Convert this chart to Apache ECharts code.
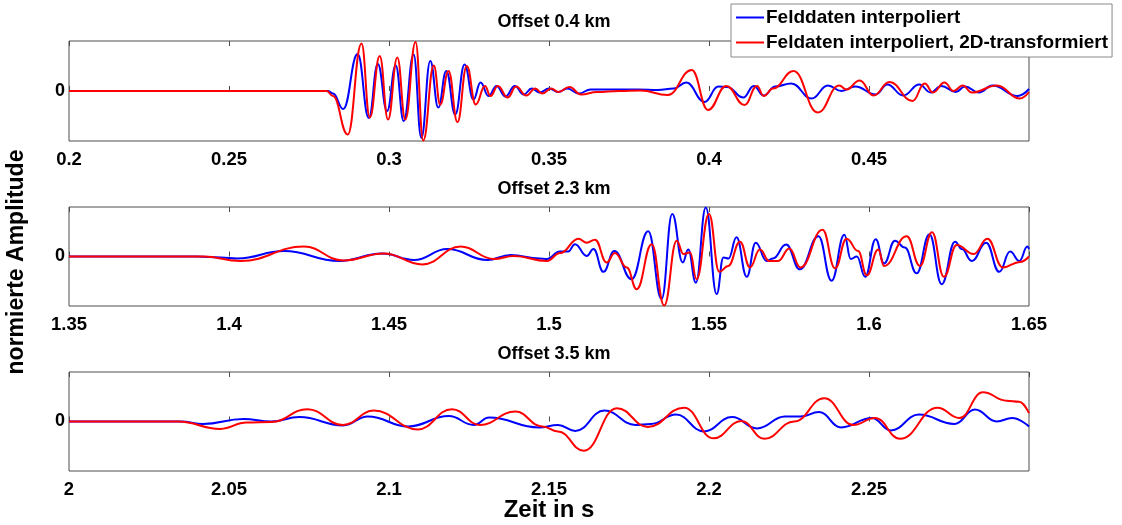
<!DOCTYPE html>
<html>
<head>
<meta charset="utf-8">
<script src="https://cdn.jsdelivr.net/npm/echarts@6/dist/echarts.min.js"></script>
<style>
  html, body { margin: 0; padding: 0; background: #fff; }
  #chart { width: 1122px; height: 525px; }
</style>
</head>
<body>
<div id="chart"></div>
<script>
// Seismic traces at three offsets: interpolated field data (blue) and
// the same data after 2D transformation (red), normalized amplitude.
const panelTitles = ['Offset 0.4 km', 'Offset 2.3 km', 'Offset 3.5 km'];
const legendNames = ['Felddaten interpoliert', 'Feldaten interpoliert, 2D-transformiert'];
const xRanges = [[0.2, 0.5], [1.35, 1.65], [2.0, 2.3]];
const xTickStep = 0.05;
const yLabel = 'normierte Amplitude';
const xLabel = 'Zeit in s';

// Offset 0.4 km
const t04Blue = [0.2, 0.281, 0.2825, 0.2857, 0.2902, 0.2937, 0.2965, 0.2994, 0.3021, 0.3046, 0.3077, 0.3101, 0.3129, 0.3154, 0.3179, 0.3207, 0.3236, 0.3264, 0.3286, 0.3311, 0.3336, 0.3364, 0.3393, 0.3421, 0.3446, 0.3471, 0.35, 0.3529, 0.3557, 0.3593, 0.363, 0.37, 0.378, 0.384, 0.389, 0.3929, 0.3986, 0.4029, 0.4057, 0.4107, 0.414, 0.4171, 0.4207, 0.4257, 0.4321, 0.4371, 0.4414, 0.4457, 0.4521, 0.4557, 0.4607, 0.4657, 0.4693, 0.4726, 0.4771, 0.48, 0.4843, 0.4886, 0.4964, 0.5];
const a04Blue = [0, 0, -0.05, -0.36, 0.74, -0.54, 0.54, -0.40, 0.51, -0.60, 0.73, -0.94, 0.60, -0.33, 0.40, -0.47, 0.53, -0.17, 0.17, -0.10, 0.10, -0.11, 0.10, -0.07, 0.05, -0.03, 0.05, -0.02, 0.05, -0.05, 0.03, 0.03, 0.03, 0.02, 0.05, 0.17, -0.22, 0.09, 0.08, -0.13, 0.10, -0.09, 0.09, 0.15, -0.15, 0.11, 0.00, 0.09, -0.07, 0.13, -0.09, 0.13, -0.03, 0.10, -0.02, 0.09, -0.03, 0.11, -0.10, 0.04];
const t04Red = [0.2, 0.2805, 0.2825, 0.2871, 0.2914, 0.294, 0.2971, 0.2997, 0.3026, 0.3051, 0.3083, 0.3107, 0.314, 0.316, 0.3186, 0.3214, 0.3243, 0.3271, 0.33, 0.3317, 0.334, 0.3371, 0.3397, 0.3429, 0.3457, 0.3479, 0.3507, 0.3529, 0.3564, 0.36, 0.365, 0.372, 0.3786, 0.3871, 0.3946, 0.3997, 0.4054, 0.4111, 0.415, 0.4171, 0.42, 0.4264, 0.434, 0.4407, 0.4429, 0.4471, 0.4514, 0.4564, 0.4636, 0.4674, 0.47, 0.4736, 0.4764, 0.4793, 0.4821, 0.49, 0.4971, 0.5];
const a04Red = [0, 0, -0.10, -0.87, 0.95, -0.53, 0.70, -0.57, 0.67, -0.57, 0.98, -0.99, 0.51, -0.27, 0.40, -0.62, 0.50, -0.27, 0.10, -0.10, 0.10, -0.13, 0.09, -0.09, 0.05, -0.05, 0.05, -0.02, 0.08, -0.07, -0.02, 0.00, 0.01, -0.08, 0.42, -0.38, 0.10, -0.28, 0.10, -0.10, 0.05, 0.40, -0.43, 0.11, 0.03, 0.21, -0.09, 0.18, -0.20, 0.15, -0.03, 0.17, 0.00, 0.11, -0.03, 0.11, -0.15, -0.02];

// Offset 2.3 km
const t23Blue = [1.35, 1.39, 1.3975, 1.4026, 1.4172, 1.4344, 1.4479, 1.4578, 1.4682, 1.4807, 1.488, 1.497, 1.4993, 1.5034, 1.506, 1.5081, 1.5118, 1.5139, 1.517, 1.5204, 1.5258, 1.531, 1.5352, 1.5385, 1.5418, 1.5435, 1.5459, 1.549, 1.5524, 1.5545, 1.5561, 1.5586, 1.5618, 1.5646, 1.568, 1.57, 1.5741, 1.5784, 1.5842, 1.5883, 1.5923, 1.5943, 1.5962, 1.5988, 1.6021, 1.6047, 1.6081, 1.6112, 1.6149, 1.6189, 1.6227, 1.6269, 1.629, 1.6321, 1.6366, 1.6407, 1.6441, 1.647, 1.6495, 1.65];
const a23Blue = [0, 0, -0.02, -0.04, 0.11, -0.09, 0.06, -0.07, 0.15, -0.07, 0.03, -0.04, -0.05, 0.10, 0.10, 0.25, 0.01, 0.15, -0.31, 0.11, -0.46, 0.51, -0.86, 0.86, -0.12, 0.14, -0.53, 0.99, -0.76, -0.02, -0.04, 0.39, -0.41, 0.28, -0.09, -0.04, 0.24, -0.26, 0.41, -0.49, 0.44, -0.05, 0.00, -0.41, 0.35, -0.14, 0.32, 0.18, -0.34, 0.45, -0.56, 0.30, 0.15, -0.09, 0.28, -0.31, 0.10, -0.09, 0.20, 0.15];
const t23Red = [1.35, 1.392, 1.4036, 1.4234, 1.4357, 1.4484, 1.4604, 1.4724, 1.4828, 1.489, 1.4993, 1.5035, 1.5092, 1.5118, 1.5144, 1.518, 1.5206, 1.5243, 1.5274, 1.5321, 1.536, 1.5399, 1.542, 1.5441, 1.5461, 1.55, 1.5532, 1.556, 1.5597, 1.5628, 1.5659, 1.5688, 1.5716, 1.5751, 1.5786, 1.5855, 1.5894, 1.593, 1.5966, 1.5993, 1.6029, 1.6047, 1.6118, 1.6159, 1.6197, 1.6234, 1.6274, 1.6327, 1.637, 1.6418, 1.6472, 1.65];
const a23Red = [0, 0, -0.09, 0.20, -0.08, 0.06, -0.16, 0.20, -0.05, 0.01, -0.09, 0.07, 0.36, 0.28, 0.34, -0.12, 0.07, -0.22, -0.66, 0.25, -0.99, 0.32, 0.05, 0.08, -0.46, 0.86, -0.31, -0.19, 0.30, -0.22, 0.14, -0.09, -0.09, 0.16, -0.22, 0.54, -0.24, 0.36, 0.11, -0.38, 0.14, -0.19, 0.41, -0.19, 0.49, -0.41, 0.23, 0.05, 0.36, -0.22, -0.11, 0.00];

// Offset 3.5 km
const t35Blue = [2.0, 2.035, 2.0418, 2.0545, 2.0632, 2.072, 2.0856, 2.0934, 2.106, 2.1187, 2.1265, 2.1313, 2.1469, 2.1528, 2.1582, 2.1673, 2.177, 2.1818, 2.1897, 2.1984, 2.2072, 2.215, 2.2237, 2.2286, 2.2344, 2.2413, 2.2509, 2.2568, 2.2656, 2.2767, 2.2831, 2.2899, 2.2947, 2.3];
const a35Blue = [0, 0, -0.05, 0.05, 0.00, 0.09, -0.08, 0.10, -0.10, 0.11, -0.07, 0.08, -0.12, -0.07, -0.19, 0.22, -0.07, -0.05, 0.14, -0.20, 0.09, -0.14, 0.10, 0.10, 0.19, -0.12, 0.07, -0.18, 0.14, -0.05, 0.24, 0.00, 0.07, -0.10];
const t35Red = [2.0, 2.034, 2.0473, 2.0555, 2.0632, 2.0745, 2.0856, 2.0953, 2.109, 2.1197, 2.1284, 2.1395, 2.1479, 2.1528, 2.1609, 2.1712, 2.1809, 2.1922, 2.2014, 2.2101, 2.2173, 2.2266, 2.236, 2.2451, 2.2519, 2.2597, 2.2714, 2.2782, 2.2856, 2.293, 2.2969, 2.3];
const a35Red = [0, 0, -0.15, -0.02, -0.01, 0.25, -0.07, 0.22, -0.16, 0.25, -0.07, 0.20, -0.10, -0.20, -0.59, 0.27, -0.11, 0.28, -0.34, 0.01, -0.35, 0.00, 0.47, -0.07, 0.07, -0.35, 0.28, 0.07, 0.59, 0.42, 0.40, 0.17];

const blueTraces = [[t04Blue, a04Blue], [t23Blue, a23Blue], [t35Blue, a35Blue]];
const redTraces = [[t04Red, a04Red], [t23Red, a23Red], [t35Red, a35Red]];

const BLUE = '#0000ff';
const RED = '#ff0000';
const FONT = '"Liberation Sans", Arial, Helvetica, sans-serif';
const FRAME = '#4d4d4d';

const zip = (t, a) => t.map((v, i) => [v, a[i]]);
const fmt = v => String(+v.toFixed(2));

const gridTops = [41, 207, 372];
const gridH = [100, 99, 99];
const titleTops = [8, 175, 340];

const chart = echarts.init(document.getElementById('chart'), null, { renderer: 'canvas' });

const grid = [], xAxis = [], yAxis = [], series = [], title = [];
for (let i = 0; i < 3; i++) {
  grid.push({
    left: 69, right: 93, top: gridTops[i], height: gridH[i],
    show: true, borderColor: FRAME, borderWidth: 1, backgroundColor: '#fff'
  });
  title.push({
    text: panelTitles[i], left: 549, top: titleTops[i], textAlign: 'center',
    textStyle: { fontFamily: FONT, fontWeight: 'bold', fontSize: 18, color: '#000' }
  });
  const [mn, mx] = xRanges[i];
  // bottom axis with labels
  xAxis.push({
    type: 'value', gridIndex: i, position: 'bottom', min: mn, max: mx, interval: xTickStep,
    axisLine: { show: false },
    axisTick: { show: true, inside: true, length: 5, lineStyle: { color: FRAME } },
    splitLine: { show: false },
    axisLabel: {
      formatter: fmt, margin: 9, showMaxLabel: i === 1, showMinLabel: true,
      fontFamily: FONT, fontWeight: 'bold', fontSize: 18.5, color: '#000'
    }
  });
  // top axis: tick marks only
  xAxis.push({
    type: 'value', gridIndex: i, position: 'top', min: mn, max: mx, interval: xTickStep,
    axisLine: { show: false },
    axisTick: { show: true, inside: true, length: 5, lineStyle: { color: FRAME } },
    splitLine: { show: false },
    axisLabel: { show: false }
  });
  yAxis.push({
    type: 'value', gridIndex: i, min: -1, max: 1, interval: 1,
    axisLine: { show: false }, axisTick: { show: false }, splitLine: { show: false },
    axisLabel: {
      formatter: v => (v === 0 ? '0' : ''), margin: 4,
      fontFamily: FONT, fontWeight: 'bold', fontSize: 18, color: '#000'
    }
  });
  series.push({
    name: legendNames[0], type: 'line', xAxisIndex: 2 * i, yAxisIndex: i,
    data: zip(blueTraces[i][0], blueTraces[i][1]),
    showSymbol: false, symbol: 'none', smooth: 0.45, smoothMonotone: 'x',
    lineStyle: { color: BLUE, width: 2 }, itemStyle: { color: BLUE }, animation: false, z: 2
  });
  series.push({
    name: legendNames[1], type: 'line', xAxisIndex: 2 * i, yAxisIndex: i,
    data: zip(redTraces[i][0], redTraces[i][1]),
    showSymbol: false, symbol: 'none', smooth: 0.45, smoothMonotone: 'x',
    lineStyle: { color: RED, width: 2 }, itemStyle: { color: RED }, animation: false, z: 3
  });
}

chart.setOption({
  backgroundColor: '#fff',
  animation: false,
  title,
  grid, xAxis, yAxis, series,
  legend: {
    data: legendNames, orient: 'vertical', left: 731, top: 4,
    icon: 'rect', itemWidth: 28, itemHeight: 2, itemGap: 6,
    padding: [4, 4, 5, 5],
    backgroundColor: '#fff', borderColor: '#888', borderWidth: 1,
    textStyle: { fontFamily: FONT, fontWeight: 'bold', fontSize: 19, color: '#000', padding: [0, 0, 0, -3] },
    selectedMode: false, z: 10
  },
  graphic: [
    {
      type: 'text', x: 17, y: 262, rotation: Math.PI / 2,
      style: { text: yLabel, font: 'bold 23px ' + FONT, fill: '#000', textAlign: 'center', textVerticalAlign: 'middle' }
    },
    {
      type: 'text', x: 549, y: 510,
      style: { text: xLabel, font: 'bold 24px ' + FONT, fill: '#000', textAlign: 'center', textVerticalAlign: 'middle' }
    }
  ]
});
</script>
</body>
</html>
